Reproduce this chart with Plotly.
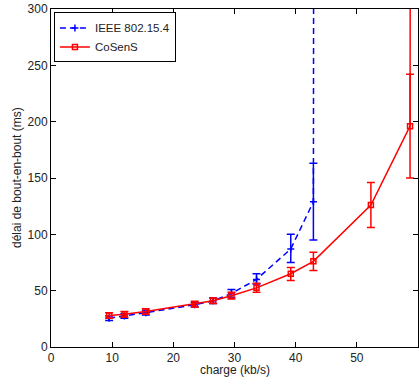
import plotly.graph_objects as go

# IEEE 802.15.4
ieee_x = [9.5, 12.0, 15.5, 23.5, 26.5, 29.5, 33.6, 39.2, 42.9, 43.0]
ieee_y = [25.5, 27.5, 30.5, 37.5, 41.0, 47.5, 60.0, 87.0, 129.0, 700.0]
ieee_err_plus = [2.0, 2.0, 2.0, 2.0, 2.5, 3.5, 5.0, 13.0, 34.0, 0.0]
ieee_err_minus = [2.0, 2.0, 2.0, 2.0, 2.5, 3.5, 4.0, 12.0, 34.0, 0.0]

# CoSenS
cosens_x = [9.5, 12.0, 15.5, 23.5, 26.5, 29.5, 33.6, 39.2, 42.9, 52.3, 58.7, 58.8]
cosens_y = [28.0, 29.0, 31.5, 38.0, 41.0, 45.5, 52.5, 65.0, 76.0, 126.0, 196.0, 700.0]
cosens_err_plus = [2.5, 2.5, 2.5, 2.5, 2.5, 3.0, 4.0, 5.5, 8.0, 20.0, 46.0, 0.0]
cosens_err_minus = [2.5, 2.5, 2.5, 2.5, 2.5, 3.0, 4.0, 6.0, 8.0, 20.0, 46.0, 0.0]

x_ticks = [0, 10, 20, 30, 40, 50, 60]
y_ticks = [0, 50, 100, 150, 200, 250, 300]

BLUE = "#0000ff"
RED = "#ff0000"
FONT = "Liberation Sans, Arial, sans-serif"

fig = go.Figure()
fig.add_trace(go.Scatter(
    x=ieee_x, y=ieee_y, name="IEEE 802.15.4", mode="lines+markers",
    line=dict(color=BLUE, width=1.5, dash="6px,4px"),
    marker=dict(symbol="cross-thin-open", size=5, color=BLUE, line=dict(color=BLUE, width=1.5)),
    error_y=dict(type="data", symmetric=False, array=ieee_err_plus, arrayminus=ieee_err_minus,
                 color=BLUE, thickness=1.5, width=4),
    cliponaxis=True,
))
fig.add_trace(go.Scatter(
    x=cosens_x, y=cosens_y, name="CoSenS", mode="lines+markers",
    line=dict(color=RED, width=1.5),
    marker=dict(symbol="square-open", size=5, color=RED, line=dict(color=RED, width=1.5)),
    error_y=dict(type="data", symmetric=False, array=cosens_err_plus, arrayminus=cosens_err_minus,
                 color=RED, thickness=1.5, width=4),
    cliponaxis=True,
))

axis_common = dict(
    showline=True, linecolor="black", linewidth=1, mirror="ticks",
    ticks="inside", ticklen=5, tickcolor="black", showgrid=False, zeroline=False,
    tickfont=dict(family=FONT, size=12, color="#222"),
)

fig.update_layout(
    width=419, height=378,
    margin=dict(l=51, r=1, t=9, b=31),
    paper_bgcolor="white", plot_bgcolor="white",
    font=dict(family=FONT, size=12, color="#222"),
    xaxis=dict(range=[0, 60], tickvals=x_ticks, ticktext=[str(v) for v in x_ticks],
               ticklabelstandoff=0, **axis_common),
    yaxis=dict(range=[0, 300], tickvals=y_ticks, ticktext=[str(v) for v in y_ticks], **axis_common),
    legend=dict(x=0.008, y=0.99, xanchor="left", yanchor="top", bgcolor="white",
                bordercolor="black", borderwidth=1, font=dict(size=11.5),
                tracegroupgap=0, itemwidth=30),
    showlegend=True,
    annotations=[
        dict(text="charge (kb/s)", xref="paper", yref="paper", x=0.5, y=0, yshift=-23,
             xanchor="center", yanchor="middle", showarrow=False,
             font=dict(family=FONT, size=12, color="#222")),
        dict(text="délai de bout-en-bout (ms)", xref="paper", yref="paper", x=0, y=0.5,
             xanchor="center", yanchor="middle", showarrow=False, xshift=-34, textangle=-90,
             font=dict(family=FONT, size=12, color="#222")),
    ],
)

fig.write_html("out.html", config={"displayModeBar": False})

# remove the default page margin so the figure sits at the window's top-left corner
with open("out.html", "r", encoding="utf-8") as f:
    html = f.read()
html = html.replace("<body>", '<body style="margin:0;padding:0;overflow:hidden">', 1)
with open("out.html", "w", encoding="utf-8") as f:
    f.write(html)
